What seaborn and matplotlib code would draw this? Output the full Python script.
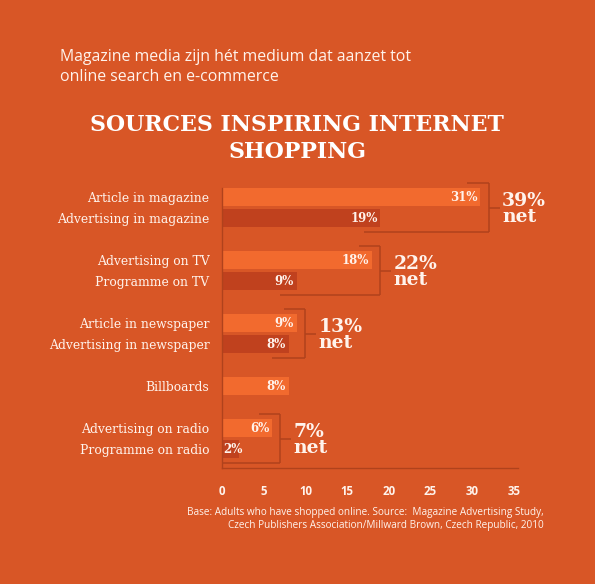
import matplotlib
matplotlib.use("Agg")
import matplotlib.pyplot as plt
import seaborn as sns

# data
labels = ["Article in magazine", "Advertising in magazine",
          "Advertising on TV", "Programme on TV",
          "Article in newspaper", "Advertising in newspaper",
          "Billboards",
          "Advertising on radio", "Programme on radio"]
values = [31, 19, 18, 9, 9, 8, 8, 6, 2]
rows = [0, 1, 3, 4, 6, 7, 9, 11, 12]
shade = ["light", "dark", "light", "dark", "light", "dark", "light", "light", "dark"]

# net reach per media pair (index pairs into the lists above)
net_values = [39, 22, 13, 7]
net_pairs = [(0, 1), (2, 3), (4, 5), (7, 8)]

x_ticks = [0, 5, 10, 15, 20, 25, 30, 35]

BG = "#D85626"
LIGHT = "#F26A2E"
DARK = "#C0411E"
LINE = "#B0421C"
TXT = "#FFF3EC"

sns.set_style("white")
plt.rcParams["font.family"] = ["DejaVu Sans"]

fig = plt.figure(figsize=(5.95, 5.84), dpi=100)
fig.patch.set_facecolor(BG)
ax = fig.add_axes([222 / 595, 1 - 468 / 584, 296 / 595, 280 / 584])
ax.set_facecolor(BG)

sns.barplot(x=values, y=rows, hue=shade, palette={"light": LIGHT, "dark": DARK},
            orient="h", native_scale=True, dodge=False, width=0.86,
            saturation=1, errorbar=None, legend=False, linewidth=0, ax=ax)

ax.set_xlim(0, 35.5)
ax.set_ylim(12.9, -0.43)
ax.set_yticks(rows, labels, fontfamily="DejaVu Serif", fontsize=8.9, color=TXT)
ax.set_xticks(x_ticks, [str(t) for t in x_ticks], fontfamily="Open Sans",
              fontweight="bold", fontsize=8.3, color=TXT)
ax.tick_params(axis="y", length=0, pad=9)
ax.tick_params(axis="x", length=0, pad=12)
ax.set_xlabel("")
ax.set_ylabel("")
for s in ["top", "right"]:
    ax.spines[s].set_visible(False)
for s in ["left", "bottom"]:
    ax.spines[s].set_color(LINE)
    ax.spines[s].set_linewidth(1)

# value labels inside bars (short bars: label starts at the axis)
for v, r in zip(values, rows):
    if v < 3:
        ax.text(0.2, r, f"{v}%", ha="left", va="center", color=TXT,
                fontfamily="DejaVu Serif", fontweight="bold", fontsize=8.5)
    else:
        ax.text(v - 0.35, r, f"{v}%", ha="right", va="center", color=TXT,
                fontfamily="DejaVu Serif", fontweight="bold", fontsize=8.5)

# net brackets
for net, (a, b) in zip(net_values, net_pairs):
    vx = max(values[a], values[b]) + 1.0
    top = rows[a] - 0.67
    bot = rows[b] + 0.67
    mid = (rows[a] + rows[b]) / 2
    kw = dict(color=LINE, lw=1.1, clip_on=False, solid_capstyle="butt")
    ax.plot([vx - 2.6, vx], [top, top], **kw)
    ax.plot([vx, vx], [top, bot], **kw)
    ax.plot([max(values[b] - 2, 0), vx], [bot, bot], **kw)
    ax.plot([vx, vx + 1.3], [mid, mid], **kw)
    ax.text(vx + 1.6, mid + 0.05, f"{net}%\nnet", ha="left", va="center", color=TXT,
            fontfamily="DejaVu Serif", fontweight="bold", fontsize=13.5,
            linespacing=0.85, clip_on=False)

# titles
fig.text(60 / 595, 1 - 49 / 584,
         "Magazine media zijn hét medium dat aanzet tot\nonline search en e-commerce",
         ha="left", va="top", color=TXT, fontfamily="Open Sans", fontsize=11.4,
         linespacing=1.3)
fig.text(297 / 595, 1 - 125 / 584, "SOURCES INSPIRING INTERNET", ha="center",
         va="center", color="white", fontfamily="DejaVu Serif", fontweight="bold",
         fontsize=15.8)
fig.text(297 / 595, 1 - 152 / 584, "SHOPPING", ha="center",
         va="center", color="white", fontfamily="DejaVu Serif", fontweight="bold",
         fontsize=15.8)

fig.text(544 / 595, 1 - 507 / 584,
         "Base: Adults who have shopped online. Source:  Magazine Advertising Study,\n"
         "Czech Publishers Association/Millward Brown, Czech Republic, 2010",
         ha="right", va="top", multialignment="right", color=TXT,
         fontfamily="Open Sans", fontsize=7.2, linespacing=1.3)

fig.savefig("out.png", dpi=100, facecolor=BG)
